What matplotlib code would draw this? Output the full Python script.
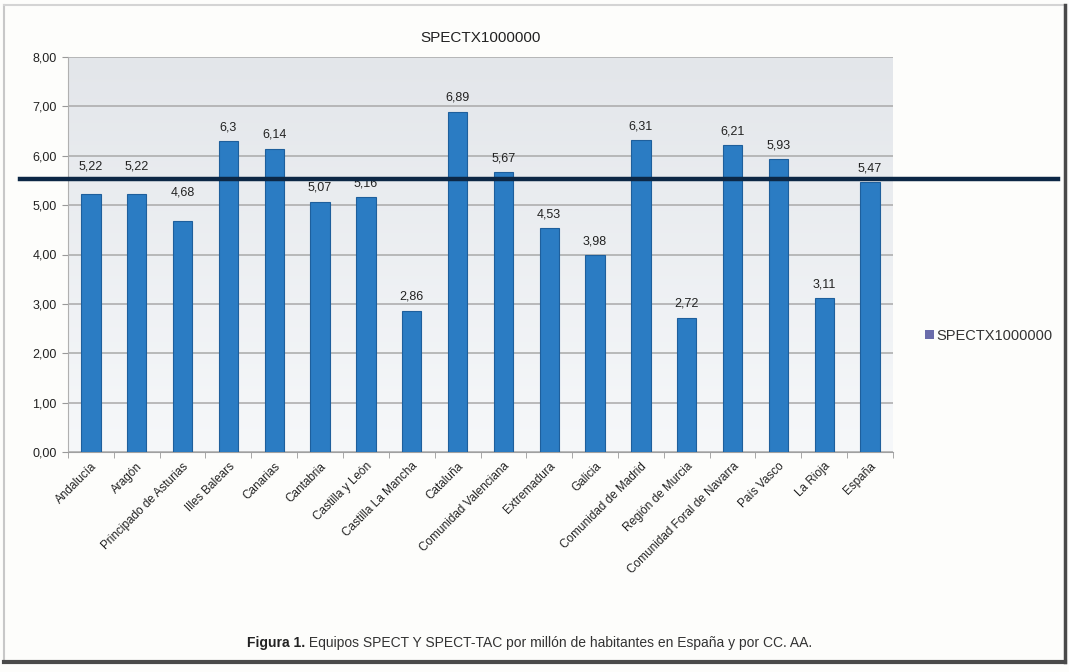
import matplotlib

matplotlib.use("Agg")
import matplotlib.pyplot as plt
import numpy as np
from matplotlib.colors import LinearSegmentedColormap
from matplotlib.lines import Line2D
from matplotlib.patches import Patch

plt.rcParams["font.family"] = ["Liberation Sans", "DejaVu Sans"]

regions = [
    "Andalucía", "Aragón", "Principado de Asturias", "Illes Balears", "Canarias",
    "Cantabria", "Castilla y León", "Castilla La Mancha", "Cataluña",
    "Comunidad Valenciana", "Extremadura", "Galicia", "Comunidad de Madrid",
    "Región de Murcia", "Comunidad Foral de Navarra", "País Vasco", "La Rioja",
    "España",
]
spect_per_million = [
    5.22, 5.22, 4.68, 6.3, 6.14, 5.07, 5.16, 2.86, 6.89, 5.67,
    4.53, 3.98, 6.31, 2.72, 6.21, 5.93, 3.11, 5.47,
]
reference_level = 5.52
series_name = "SPECTX1000000"
caption_bold = "Figura 1."
caption_text = " Equipos SPECT Y SPECT-TAC por millón de habitantes en España y por CC. AA."

W, H = 1069, 672
fig = plt.figure(figsize=(W / 100, H / 100), dpi=100, facecolor="#fdfdfb")


def px(x0, y0, x1, y1):
    """Pixel box (from top-left) -> figure fraction [left, bottom, width, height]."""
    return [x0 / W, 1 - y1 / H, (x1 - x0) / W, (y1 - y0) / H]


# page frame: light top/left edges, dark shadow right/bottom
fig.add_artist(Line2D([4 / W, 4 / W], [1 - 662 / H, 1 - 5 / H], color="#c8c8c8", lw=1.5))
fig.add_artist(Line2D([4 / W, 1065 / W], [1 - 5 / H, 1 - 5 / H], color="#d4d4d4", lw=1.5))
fig.add_artist(Line2D([1065 / W, 1065 / W], [1 - 662 / H, 1 - 5 / H], color="#4a4a4a", lw=2.5))
fig.add_artist(Line2D([4 / W, 1065 / W], [1 - 662 / H, 1 - 662 / H], color="#4a4a4a", lw=3))

ax = fig.add_axes(px(68, 57, 893, 452))
x = np.arange(len(regions))
ax.set_xlim(-0.5, len(regions) - 0.5)
ax.set_ylim(0, 8)

# soft grey-to-white plot area fill
grad = LinearSegmentedColormap.from_list("bg", ["#f6f8fa", "#e3e6ea"])
ax.imshow(np.linspace(0, 1, 256).reshape(-1, 1), cmap=grad, origin="lower",
          extent=[-0.5, len(regions) - 0.5, 0, 8], aspect="auto", zorder=0)

ax.set_yticks(np.arange(0, 9, 1))
ax.set_yticklabels([f"{v:.2f}".replace(".", ",") for v in range(9)], fontsize=9, color="#222222")
ax.yaxis.grid(True, color="#a9a9a9", lw=1.1, zorder=1)
ax.set_axisbelow(True)

ax.bar(x, spect_per_million, width=0.42, color="#2b7cc3", edgecolor="#1e5f9c",
       lw=0.8, zorder=3)

# value labels; the first three sit a little higher, clear of the reference line
for i, v in enumerate(spect_per_million):
    lift = 0.45 if i < 3 else 0.16
    ax.text(x[i], v + lift, f"{v:g}".replace(".", ","), ha="center", va="bottom",
            fontsize=9, color="#222222", zorder=4)

ax.set_xticks(x)
ax.set_xticklabels(regions, rotation=45, ha="right", rotation_mode="anchor",
                   fontsize=8.5, color="#222222")
ax.tick_params(axis="x", length=0, pad=6)
ax.set_xticks(np.arange(-0.5, len(regions), 1), minor=True)
ax.tick_params(axis="x", which="minor", length=4, color="#999999")
ax.tick_params(axis="y", length=4, color="#999999", pad=4)

for side in ("top", "right"):
    ax.spines[side].set_visible(False)
ax.spines["left"].set_color("#b0b0b0")
ax.spines["bottom"].set_color("#a0a0a0")

# reference level drawn across the whole page width
ax.axhline(reference_level, xmin=(20 - 68) / 825, xmax=(1058 - 68) / 825,
           color="#0c2745", lw=3.2, clip_on=False, zorder=5)

fig.text((68 + 893) / 2 / W, 1 - 38 / H, series_name, ha="center", va="center",
         fontsize=11, color="#222222")

fig.legend(handles=[Patch(facecolor="#6a6cab", edgecolor="none", label=series_name)],
           loc="center left", bbox_to_anchor=(912 / W, 1 - 336 / H), frameon=False,
           fontsize=10.5, handlelength=0.6, handleheight=0.6, handletextpad=0.2,
           labelcolor="#333333")

# caption with bold figure number followed by regular text
cap_y = 1 - 643 / H
t1 = fig.text(247 / W, cap_y, caption_bold, ha="left", va="center", fontsize=10,
              fontweight="bold", color="#222222")
fig.canvas.draw()
bb = t1.get_window_extent(fig.canvas.get_renderer())
fig.text(bb.x1 / W, cap_y, caption_text, ha="left", va="center", fontsize=10,
         color="#333333")

fig.savefig("out.png", dpi=100, facecolor=fig.get_facecolor())
